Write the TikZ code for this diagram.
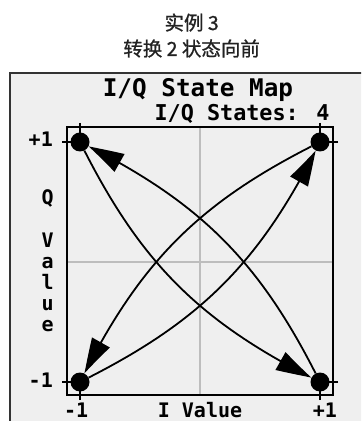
\documentclass[tikz,border=0pt]{standalone}
\usepackage{fontspec}
\usetikzlibrary{arrows.meta,bending}
\newfontfamily\monofnt{DejaVu Sans Mono}
\newfontfamily\cjk{Noto Sans CJK SC}[FakeBold=0.9]
\newcommand\lblfont{\monofnt\bfseries\fontsize{20}{21}\selectfont}
\newcommand\titlefont{\monofnt\bfseries\fontsize{24.3}{26}\selectfont}
\newcommand\statefont{\monofnt\bfseries\fontsize{21.8}{24}\selectfont}
\newcommand\capfont{\cjk\fontsize{19.5}{22}\selectfont}
\definecolor{panelgray}{HTML}{EFEFEF}
\definecolor{panelline}{HTML}{333333}
\definecolor{gridgray}{HTML}{BDBDBD}
\definecolor{captext}{HTML}{222222}

\begin{document}
\begin{tikzpicture}[x=120pt,y=120pt,every node/.style={inner sep=0pt},
  dot/.style={circle,fill=black,minimum size=19pt,inner sep=0pt},
  flow/.style={line width=1.8pt,-{Triangle[length=36pt,width=20pt,bend]}},
  tickline/.style={line width=1.6pt},
  lbl/.style={font=\lblfont}]
\clip (-1.6667,-1.325) rectangle (1.3417,2.1833);
\fill[white] (-1.6667,-1.325) rectangle (1.3417,2.1833);
% panel and plot box
\draw[fill=panelgray,draw=panelline,line width=2pt] (-1.583,-1.45) rectangle (1.45,1.575);
\draw[gridgray,line width=1.4pt] (0,-1.11) -- (0,1.125);
\draw[gridgray,line width=1.4pt] (-1.11,0) -- (1.11,0);
\draw[line width=2pt] (-1.11,-1.11) rectangle (1.11,1.125);
\foreach \t in {-1,1}{
  \draw[tickline] (\t,1.16) -- (\t,1.05);
  \draw[tickline] (\t,-1.15) -- (\t,-1.05);
  \draw[tickline] (-1.15,\t) -- (-1.05,\t);
  \draw[tickline] (1.15,\t) -- (1.05,\t);
}
% states
\node[dot] (mp) at (-1,1) {};
\node[dot] (pp) at (1,1) {};
\node[dot] (pm) at (1,-1) {};
\node[dot] (mm) at (-1,-1) {};
\draw[flow] (pm) to[bend right=18] (mp);
\draw[flow] (mp) to[bend right=18] (pm);
\draw[flow] (pp) to[bend right=18] (mm);
\draw[flow] (mm) to[bend right=18] (pp);
% axis labels
\node[lbl,anchor=east] (qtop) at (-1.225,1.02) {+1};
\node[lbl,anchor=east] (qbot) at (-1.225,-0.983) {-1};
\node[lbl,anchor=base] (qname) at (-1.27,0.475) {Q};
\node[lbl,align=center,anchor=north] (qvalue) at (-1.27,0.242) {V\\a\\l\\u\\e};
\node[lbl,anchor=base] (ileft) at (-1.033,-1.292) {-1};
\node[lbl,anchor=base] (iname) at (0,-1.292) {I Value};
\node[lbl,anchor=base] (iright) at (1.04,-1.292) {+1};
% titles
\node[font=\titlefont,anchor=base] (title) at (-0.017,1.375) {I/Q State Map};
\node[font=\statefont,anchor=base] (count) at (0.35,1.183) {I/Q States: 4};
\node[font=\capfont,text=captext,anchor=base] (cap1) at (-0.07,1.933) {实例 3};
\node[font=\capfont,text=captext,anchor=base] (cap2) at (-0.07,1.717) {转换 2 状态向前};
\end{tikzpicture}
\end{document}
